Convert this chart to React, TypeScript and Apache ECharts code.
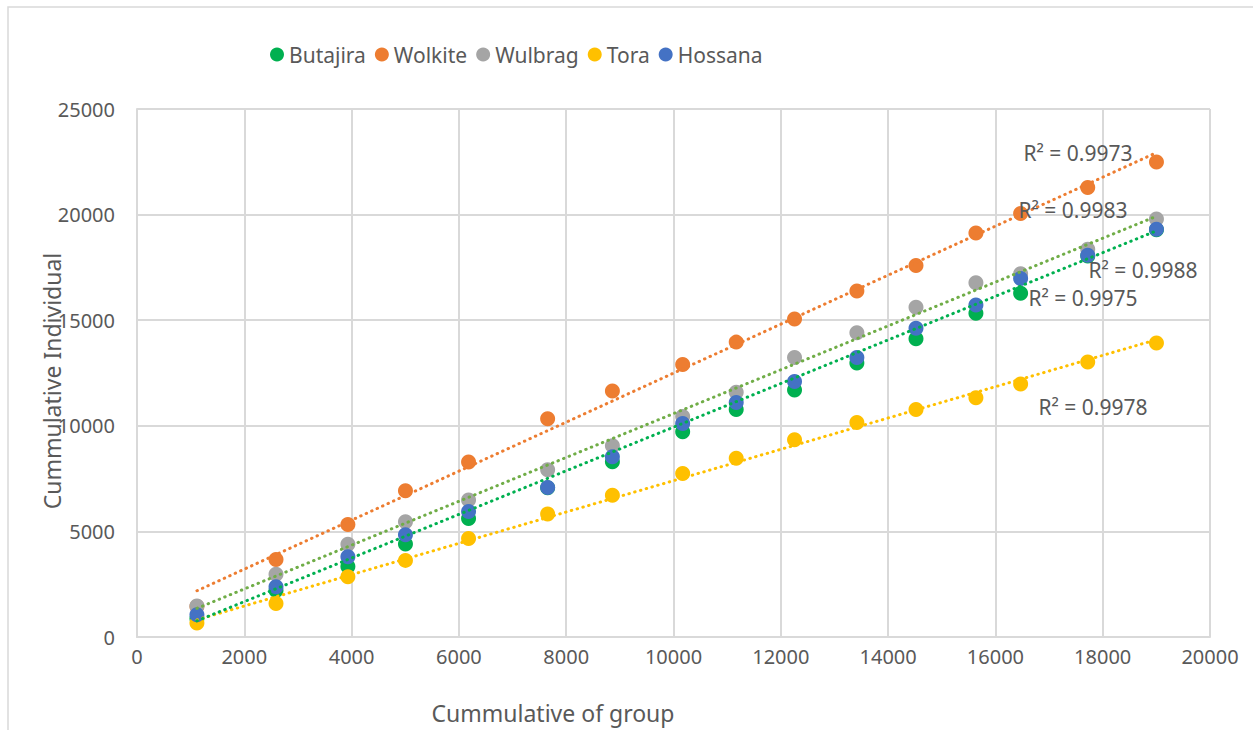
import React, { useEffect, useRef } from "react";
import * as echarts from "echarts";

const groupX = [1117, 2591, 3931, 5004, 6180, 7654, 8861, 10171, 11169, 12256, 13418, 14520, 15637, 16470, 17721, 19002];

const butajira = [880, 2199, 3342, 4398, 5607, 7070, 8300, 9719, 10774, 11697, 12973, 14116, 15325, 16271, 18040, 19280];
const wolkite = [1450, 3672, 5321, 6926, 8289, 10334, 11653, 12907, 13962, 15062, 16381, 17590, 19129, 20053, 21284, 22493];
const wulbrag = [1473, 2968, 4397, 5453, 6486, 7916, 9059, 10444, 11587, 13237, 14402, 15611, 16777, 17194, 18360, 19789];
const tora = [660, 1583, 2858, 3628, 4661, 5827, 6706, 7740, 8465, 9345, 10158, 10774, 11324, 11983, 13017, 13918];
const hossana = [1055, 2375, 3804, 4837, 5937, 7080, 8531, 10114, 11104, 12093, 13237, 14622, 15721, 16975, 18074, 19305];

const seriesNames = ["Butajira", "Wolkite", "Wulbrag", "Tora", "Hossana"];
const seriesValues = [butajira, wolkite, wulbrag, tora, hossana];
const markerColors = ["#00B050", "#ED7D31", "#A5A5A5", "#FFC000", "#4472C4"];
// trendline colour per series; null = trendline hidden under another one
const trendColors = [null, "#ED7D31", "#70AD47", "#FFC000", "#00B050"];
const rSquaredLabels = ["R² = 0.9975", "R² = 0.9973", "R² = 0.9983", "R² = 0.9978", "R² = 0.9988"];
const rSquaredPos = [[1083, 298], [1078, 153], [1073, 210], [1093, 407], [1143, 270]];

const xTitle = "Cummulative of group";
const yTitle = "Cummulative Individual";

function fit(xs: number[], ys: number[]) {
  const n = xs.length;
  let sx = 0, sy = 0, sxx = 0, sxy = 0;
  for (let i = 0; i < n; i++) {
    sx += xs[i]; sy += ys[i]; sxx += xs[i] * xs[i]; sxy += xs[i] * ys[i];
  }
  const b = (n * sxy - sx * sy) / (n * sxx - sx * sx);
  const a = (sy - b * sx) / n;
  const x0 = Math.min(...xs), x1 = Math.max(...xs);
  return [[x0, a + b * x0], [x1, a + b * x1]];
}

const FONT = "Noto Sans";
const TXT = "#595959";

export default function App() {
  const ref = useRef<HTMLDivElement>(null);
  useEffect(() => {
    if (!ref.current) return;
    const chart = echarts.init(ref.current, undefined, { renderer: "svg" });
    const scatter = seriesNames.map((name, i) => ({
      name,
      type: "scatter",
      data: groupX.map((x, j) => [x, seriesValues[i][j]]),
      symbol: "circle",
      symbolSize: 15,
      itemStyle: { color: markerColors[i], opacity: 1 },
      z: 2,
    }));
    const trends = seriesNames
      .map((name, i) => ({ name, i }))
      .filter(({ i }) => trendColors[i])
      .map(({ name, i }) => ({
        name: name + " trend",
        type: "line",
        data: fit(groupX, seriesValues[i]),
        symbol: "none",
        lineStyle: { color: trendColors[i], width: 3, type: [0.5, 5.5], cap: "round" },
        z: 3,
        silent: true,
      }));
    chart.setOption({
      animation: false,
      backgroundColor: "#ffffff",
      textStyle: { fontFamily: FONT },
      grid: { left: 137, right: 43, top: 109, bottom: 93 },
      legend: {
        data: seriesNames,
        left: 265,
        top: 39,
        icon: "circle",
        itemWidth: 14,
        itemHeight: 14,
        itemGap: 9,
        textStyle: { color: TXT, fontSize: 21, fontFamily: FONT },
      },
      xAxis: {
        type: "value",
        min: 0,
        max: 20000,
        interval: 2000,
        axisLine: { show: true, lineStyle: { color: "#d9d9d9", width: 2 } },
        axisTick: { show: false },
        axisLabel: { color: TXT, fontSize: 20, margin: 9, fontFamily: FONT, formatter: (v: number) => String(v) },
        splitLine: { show: true, lineStyle: { color: "#d9d9d9", width: 2 } },
      },
      yAxis: {
        type: "value",
        min: 0,
        max: 25000,
        interval: 5000,
        axisLine: { show: true, lineStyle: { color: "#d9d9d9", width: 2 } },
        axisTick: { show: false },
        axisLabel: { color: TXT, fontSize: 20, margin: 22, fontFamily: FONT, formatter: (v: number) => String(v) },
        splitLine: { show: true, lineStyle: { color: "#d9d9d9", width: 2 } },
      },
      graphic: [
        {
          type: "rect",
          shape: { x: 8, y: 7, width: 1300, height: 800 },
          style: { fill: "none", stroke: "#d9d9d9", lineWidth: 1.5 },
          silent: true,
        },
        {
          type: "text",
          x: 553,
          y: 713,
          style: { text: xTitle, fill: TXT, font: `23px "${FONT}"`, textAlign: "center", textVerticalAlign: "middle" },
        },
        {
          type: "text",
          x: 52,
          y: 381,
          rotation: Math.PI / 2,
          style: { text: yTitle, fill: TXT, font: `23px "${FONT}"`, textAlign: "center", textVerticalAlign: "middle" },
        },
        ...rSquaredLabels.map((t, i) => ({
          type: "text",
          x: rSquaredPos[i][0],
          y: rSquaredPos[i][1],
          z: 10,
          style: { text: t, fill: TXT, font: `21px "${FONT}"`, textAlign: "center", textVerticalAlign: "middle" },
        })),
      ],
      series: [...scatter, ...trends],
    });
    return () => chart.dispose();
  }, []);
  return (
    <div
      ref={ref}
      style={{ position: "fixed", left: 0, top: 0, width: 1253, height: 730, background: "#fff" }}
    />
  );
}
